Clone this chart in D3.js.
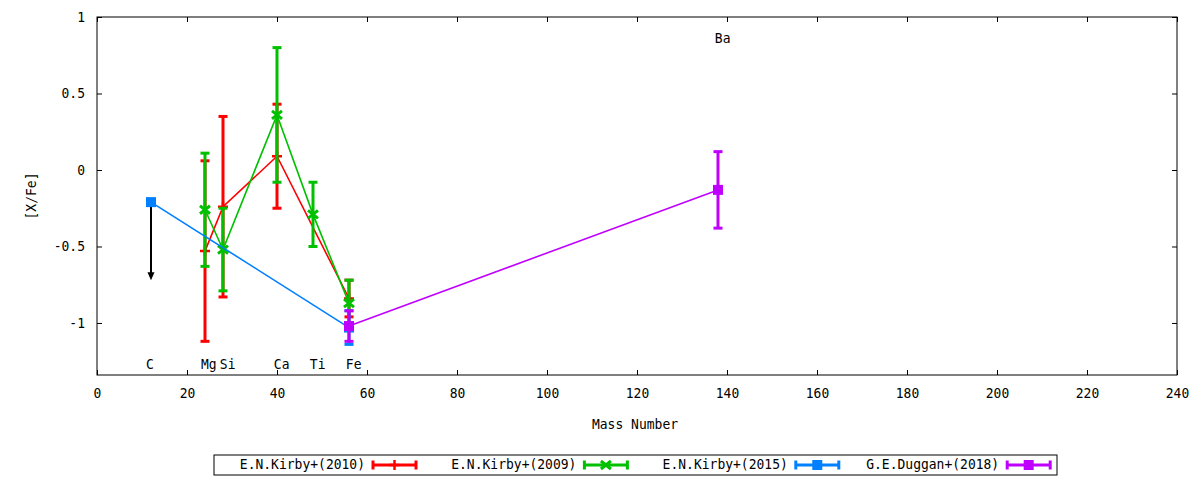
<!DOCTYPE html>
<html>
<head>
<meta charset="utf-8">
<script src="https://cdn.jsdelivr.net/npm/d3@7"></script>
<style>
  html,body{margin:0;padding:0;background:#fff;}
  svg text{font-family:"DejaVu Sans Mono",monospace;font-size:13px;fill:#000;}
</style>
</head>
<body>
<svg id="chart" width="1200" height="480"></svg>
<script>
// element labels placed on the plot
const elementNames=["C","Mg","Si","Ca","Ti","Fe","Ba"];
const elementLabelX=[10.9,23.1,27.3,39.3,47.3,55.3,137.3];
const elementLabelY=[-1.27,-1.27,-1.27,-1.27,-1.27,-1.27,0.86];

// E.N.Kirby+(2010)
const kirby2010Mass=[24,28,40,56];
const kirby2010Value=[-0.53,-0.24,0.09,-0.84];
const kirby2010Error=[0.59,0.59,0.34,0.12];

// E.N.Kirby+(2009)
const kirby2009Mass=[24,28,40,48,56];
const kirby2009Value=[-0.26,-0.52,0.36,-0.29,-0.87];
const kirby2009Error=[0.37,0.27,0.44,0.21,0.15];

// E.N.Kirby+(2015), carbon is an upper limit
const kirby2015Mass=[12,56];
const kirby2015Value=[-0.21,-1.03];
const kirby2015Error=[0,0.11];
const upperLimitArrow=[12,-0.21,-0.72]; // mass, from, to

// G.E.Duggan+(2018)
const duggan2018Mass=[56,138];
const duggan2018Value=[-1.02,-0.13];
const duggan2018Error=[0.10,0.25];

const xTicks=[0,20,40,60,80,100,120,140,160,180,200,220,240];
const yTicks=[-1,-0.5,0,0.5,1];

const series=[
  {name:"E.N.Kirby+(2010)",color:"#ff0000",pt:"plus",mass:kirby2010Mass,val:kirby2010Value,err:kirby2010Error},
  {name:"E.N.Kirby+(2009)",color:"#00c000",pt:"cross",mass:kirby2009Mass,val:kirby2009Value,err:kirby2009Error},
  {name:"E.N.Kirby+(2015)",color:"#0080ff",pt:"square",mass:kirby2015Mass,val:kirby2015Value,err:kirby2015Error},
  {name:"G.E.Duggan+(2018)",color:"#c000ff",pt:"square",mass:duggan2018Mass,val:duggan2018Value,err:duggan2018Error}
];

const L=97,R=1177,T=17,B=375;
const TALL="scale(1,1.12)"; // the reference font is a bit taller than DejaVu Sans Mono
const svg=d3.select("#chart");
const x=d3.scaleLinear().domain([0,240]).range([L,R]);
const y=d3.scaleLinear().domain([-1.34,1]).range([B,T]);

function label(g,px,py,txt,anchor,rot){
  return g.append("text").attr("transform",`translate(${px},${py})${rot?` rotate(${rot})`:""} ${TALL}`)
    .attr("text-anchor",anchor||"start").attr("dominant-baseline","middle").text(txt);
}

// axes with inward ticks, mirrored on top and right
const fmt=d=>String(d);
svg.append("g").attr("transform",`translate(0,${B})`)
  .call(d3.axisBottom(x).tickValues(xTicks).tickFormat(fmt).tickSizeInner(-5).tickSizeOuter(0))
  .selectAll(".tick text").attr("y",null).attr("dy",null).attr("dominant-baseline","middle")
  .attr("transform",`translate(0,19) ${TALL}`);
svg.append("g").attr("transform",`translate(0,${T})`)
  .call(d3.axisTop(x).tickValues(xTicks).tickFormat("").tickSizeInner(-5).tickSizeOuter(0));
svg.append("g").attr("transform",`translate(${L},0)`)
  .call(d3.axisLeft(y).tickValues(yTicks).tickFormat(fmt).tickSizeInner(-5).tickSizeOuter(0))
  .selectAll(".tick text").attr("x",null).attr("dy",null).attr("dominant-baseline","middle")
  .attr("transform",`translate(-12,0) ${TALL}`);
svg.append("g").attr("transform",`translate(${R},0)`)
  .call(d3.axisRight(y).tickValues(yTicks).tickFormat("").tickSizeInner(-5).tickSizeOuter(0));
svg.selectAll(".domain").remove();
svg.selectAll(".tick line").attr("stroke","#000");
svg.selectAll(".tick text").style("font-family","'DejaVu Sans Mono',monospace").style("font-size","13px");
svg.append("rect").attr("x",L).attr("y",T).attr("width",R-L).attr("height",B-T)
  .attr("fill","none").attr("stroke","#000").attr("stroke-width",1);

label(svg,(L+R)/2-2,425,"Mass Number","middle");
label(svg,32,(T+B)/2,"[X/Fe]","middle",-90);

// element labels
elementNames.forEach((n,i)=>label(svg,x(elementLabelX[i]),y(elementLabelY[i]),n));

function drawMarker(g,pt,cx,cy,color){
  if(pt==="square"){
    g.append("rect").attr("x",cx-5).attr("y",cy-5).attr("width",10).attr("height",10).attr("fill",color);
  }else if(pt==="plus"){
    g.append("path").attr("d",`M${cx-5},${cy}H${cx+5}M${cx},${cy-5}V${cy+5}`)
      .attr("stroke",color).attr("stroke-width",2.5).attr("fill","none");
  }else{
    g.append("path").attr("d",`M${cx-5},${cy-4}L${cx+5},${cy+4}M${cx-5},${cy+4}L${cx+5},${cy-4}`)
      .attr("stroke",color).attr("stroke-width",3).attr("fill","none");
  }
}

function drawErrorBar(g,cx,y1,y2,color){
  g.append("line").attr("x1",cx).attr("x2",cx).attr("y1",y1).attr("y2",y2)
    .attr("stroke",color).attr("stroke-width",3);
  [y1,y2].forEach(yy=>g.append("line").attr("x1",cx-4.5).attr("x2",cx+4.5).attr("y1",yy).attr("y2",yy)
    .attr("stroke",color).attr("stroke-width",3));
}

const line=d3.line().x(d=>x(d[0])).y(d=>y(d[1]));
series.forEach(s=>{
  const g=svg.append("g");
  const pts=s.mass.map((m,i)=>[m,s.val[i],s.err[i]]);
  g.append("path").attr("d",line(pts)).attr("fill","none").attr("stroke",s.color).attr("stroke-width",1.6);
  pts.forEach(p=>{ if(p[2]>0) drawErrorBar(g,x(p[0]),y(p[1]-p[2]),y(p[1]+p[2]),s.color); });
  if(s.name==="E.N.Kirby+(2015)"){
    const [am,a0,a1]=upperLimitArrow;
    g.append("line").attr("x1",x(am)).attr("x2",x(am)).attr("y1",y(a0)).attr("y2",y(a1)-7)
      .attr("stroke","#000").attr("stroke-width",2);
    g.append("path").attr("d",`M${x(am)-3.5},${y(a1)-8}L${x(am)+3.5},${y(a1)-8}L${x(am)},${y(a1)}Z`).attr("fill","#000");
  }
  pts.forEach(p=>drawMarker(g,s.pt,x(p[0]),y(p[1]),s.color));
});

// legend
const lg=svg.append("g");
lg.append("rect").attr("x",214).attr("y",455).attr("width",843).attr("height",20)
  .attr("fill","none").attr("stroke","#000").attr("stroke-width",1);
series.forEach((s,i)=>{
  const tx=365+i*211.4, x1=tx+8, x2=tx+51, ly=465;
  label(lg,tx,ly,s.name,"end");
  lg.append("line").attr("x1",x1).attr("x2",x2).attr("y1",ly).attr("y2",ly).attr("stroke",s.color).attr("stroke-width",3);
  [x1,x2].forEach(xx=>lg.append("line").attr("x1",xx).attr("x2",xx).attr("y1",ly-4.5).attr("y2",ly+4.5)
    .attr("stroke",s.color).attr("stroke-width",3));
  drawMarker(lg,s.pt,(x1+x2)/2,ly,s.color);
});
</script>
</body>
</html>
